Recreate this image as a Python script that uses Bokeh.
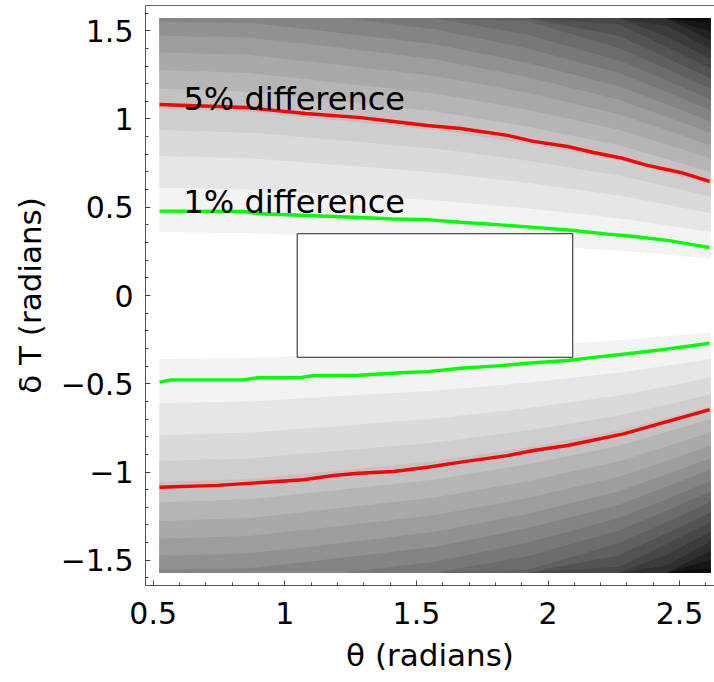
import numpy as np
from bokeh.plotting import figure
from bokeh.models import FixedTicker, Label, LinearAxis
from bokeh.embed import file_html
from bokeh.resources import INLINE

# ---------------- data ----------------
theta_lo, theta_hi = 0.5236, 2.618      # plotted theta domain
dT_top = 1.5708                         # plotted delta-T domain is +-dT_top

# contour-band boundaries (upper half, delta T in radians) at these theta columns
theta_cols = [0.5236, 0.87, 1.22, 1.57, 1.92, 2.27, 2.45, 2.618]
level_00 = [0.360, 0.352, 0.334, 0.315, 0.287, 0.254, 0.231, 0.208]
level_01 = [0.611, 0.600, 0.570, 0.539, 0.494, 0.438, 0.398, 0.360]
level_02 = [0.791, 0.776, 0.738, 0.697, 0.639, 0.567, 0.515, 0.465]
level_03 = [0.937, 0.922, 0.878, 0.833, 0.765, 0.680, 0.619, 0.560]
level_04 = [1.057, 1.039, 0.990, 0.938, 0.861, 0.765, 0.696, 0.630]
level_05 = [1.173, 1.153, 1.099, 1.042, 0.957, 0.851, 0.774, 0.700]
level_06 = [1.277, 1.260, 1.203, 1.144, 1.053, 0.939, 0.855, 0.775]
level_07 = [1.378, 1.362, 1.305, 1.244, 1.149, 1.027, 0.937, 0.850]
level_08 = [1.473, 1.460, 1.402, 1.339, 1.238, 1.109, 1.013, 0.920]
level_09 = [1.553, 1.544, 1.486, 1.423, 1.319, 1.185, 1.083, 0.985]
level_10 = [1.5708, 1.5708, 1.5708, 1.508, 1.401, 1.261, 1.154, 1.050]
level_11 = [1.5708, 1.5708, 1.5708, 1.5708, 1.478, 1.332, 1.219, 1.110]
level_12 = [1.5708, 1.5708, 1.5708, 1.5708, 1.555, 1.402, 1.284, 1.170]
level_13 = [1.5708, 1.5708, 1.5708, 1.5708, 1.5708, 1.472, 1.347, 1.230]
level_14 = [1.5708, 1.5708, 1.5708, 1.5708, 1.5708, 1.537, 1.409, 1.285]
level_15 = [1.5708, 1.5708, 1.5708, 1.5708, 1.5708, 1.5708, 1.469, 1.340]
level_16 = [1.5708, 1.5708, 1.5708, 1.5708, 1.5708, 1.5708, 1.529, 1.395]
level_17 = [1.5708, 1.5708, 1.5708, 1.5708, 1.5708, 1.5708, 1.5708, 1.445]
level_18 = [1.5708, 1.5708, 1.5708, 1.5708, 1.5708, 1.5708, 1.5708, 1.495]
level_19 = [1.5708, 1.5708, 1.5708, 1.5708, 1.5708, 1.5708, 1.5708, 1.545]
levels = [level_00, level_01, level_02, level_03, level_04, level_05, level_06,
          level_07, level_08, level_09, level_10, level_11, level_12, level_13,
          level_14, level_15, level_16, level_17, level_18, level_19]

# 5% difference contour (red)
red_up_theta = [0.524, 0.851, 1.079, 1.288, 1.413, 1.542, 1.668, 1.846, 1.945,
                2.074, 2.173, 2.287, 2.378, 2.504, 2.614]
red_up_dT = [1.082, 1.065, 1.031, 1.008, 0.986, 0.963, 0.946, 0.907, 0.873,
             0.844, 0.810, 0.776, 0.737, 0.697, 0.646]
red_lo_theta = [0.524, 0.744, 1.071, 1.185, 1.280, 1.413, 1.542, 1.668, 1.846,
                1.945, 2.074, 2.287, 2.378, 2.614]
red_lo_dT = [-1.086, -1.076, -1.044, -1.020, -1.007, -0.997, -0.973, -0.944,
             -0.907, -0.878, -0.850, -0.784, -0.746, -0.646]

# 1% difference contour (green)
green_up_theta = [0.524, 0.843, 0.908, 1.136, 1.288, 1.413, 1.542, 1.668, 1.820,
                  1.985, 2.098, 2.227, 2.328, 2.454, 2.543, 2.614]
green_up_dT = [0.478, 0.476, 0.463, 0.450, 0.442, 0.433, 0.430, 0.415, 0.400,
               0.382, 0.368, 0.348, 0.334, 0.312, 0.290, 0.272]
green_lo_theta = [0.524, 0.566, 0.843, 0.896, 1.060, 1.109, 1.280, 1.440, 1.542,
                  1.668, 1.820, 1.922, 2.074, 2.199, 2.302, 2.427, 2.553, 2.614]
green_lo_dT = [-0.491, -0.478, -0.478, -0.466, -0.465, -0.453, -0.452, -0.438,
               -0.431, -0.412, -0.397, -0.384, -0.368, -0.346, -0.330, -0.308,
               -0.283, -0.270]

# boxed region
box_theta = [1.047, 2.094]
box_dT = [-0.35, 0.35]

x_ticks = [0.5, 1, 1.5, 2, 2.5]
x_tick_labels = ["0.5", "1", "1.5", "2", "2.5"]
y_ticks = [-1.5, -1, -0.5, 0, 0.5, 1, 1.5]
y_tick_labels = ["\u22121.5", "\u22121", "\u22120.5", "0", "0.5", "1", "1.5"]
x_minor = [round(0.5 + 0.1 * i, 1) for i in range(22)]
y_minor = [round(-1.6 + 0.1 * i, 1) for i in range(33)]

# ---------------- styling ----------------
band_grays = ["#%02x%02x%02x" % (g, g, g)
              for g in [255, 243, 230, 218, 206, 194, 181, 169, 157, 145, 132,
                        120, 108, 96, 83, 71, 59, 47, 34, 22, 10]]

W, H = 714, 678
p = figure(width=W, height=H, x_range=(0.4707, 2.6326), y_range=(-1.643, 1.643),
           output_backend="svg", toolbar_location=None,
           min_border_left=145, min_border_right=0, min_border_top=5,
           min_border_bottom=93)
p.grid.visible = False
p.outline_line_color = None
p.background_fill_color = "white"
p.border_fill_color = "white"

top_edge = [dT_top] * len(theta_cols)
for k, lev in enumerate(levels):
    c = band_grays[k + 1]
    p.varea(x=theta_cols, y1=lev, y2=top_edge, fill_color=c)
    p.varea(x=theta_cols, y1=[-v for v in top_edge], y2=[-v for v in lev], fill_color=c)

p.quad(left=[box_theta[0]], right=[box_theta[1]], bottom=[box_dT[0]], top=[box_dT[1]],
       fill_color="white", line_color="#222222", line_width=1)

p.line(red_up_theta, red_up_dT, line_color="#ff0000", line_width=3.4)
p.line(red_lo_theta, red_lo_dT, line_color="#ff0000", line_width=3.4)
p.line(green_up_theta, green_up_dT, line_color="#00ff00", line_width=3.4)
p.line(green_lo_theta, green_lo_dT, line_color="#00ff00", line_width=3.4)

for txt, yy in [("5% difference", 1.116), ("1% difference", 0.527)]:
    p.add_layout(Label(x=0.615, y=yy, text=txt, text_font="DejaVu Sans",
                       text_font_size="32px", text_color="black",
                       text_baseline="alphabetic", text_align="left"))

p.xaxis.ticker = FixedTicker(ticks=x_ticks, minor_ticks=x_minor)
p.yaxis.ticker = FixedTicker(ticks=y_ticks, minor_ticks=y_minor)
p.xaxis.major_label_overrides = dict(zip(x_ticks, x_tick_labels))
p.yaxis.major_label_overrides = dict(zip(y_ticks, y_tick_labels))
for ax in (p.xaxis[0], p.yaxis[0]):
    ax.major_tick_in = 5
    ax.major_tick_out = 0
    ax.minor_tick_in = 3
    ax.minor_tick_out = 0
    ax.axis_line_color = "#555555"
    ax.major_tick_line_color = "#444444"
    ax.minor_tick_line_color = "#444444"
    ax.major_label_text_font = "DejaVu Sans"
    ax.major_label_text_font_size = "30px"
    ax.major_label_text_color = "black"
    ax.axis_label_text_font = "DejaVu Sans"
    ax.axis_label_text_font_size = "31px"
    ax.axis_label_text_font_style = "normal"
    ax.axis_label_text_color = "black"
p.yaxis.major_label_standoff = 12
p.xaxis.major_label_standoff = 16
p.xaxis.axis_label = "\u03b8 (radians)"
p.yaxis.axis_label = "\u03b4 T (radians)"
p.xaxis.axis_label_standoff = 10
p.yaxis.axis_label_standoff = 10

# top frame line
top_axis = LinearAxis(ticker=FixedTicker(ticks=[]), axis_line_color="#666666",
                      major_tick_in=0, major_tick_out=0, minor_tick_in=0,
                      minor_tick_out=0, major_label_text_font_size="0px")
p.add_layout(top_axis, "above")

open("out.html", "w").write(file_html(p, INLINE))
